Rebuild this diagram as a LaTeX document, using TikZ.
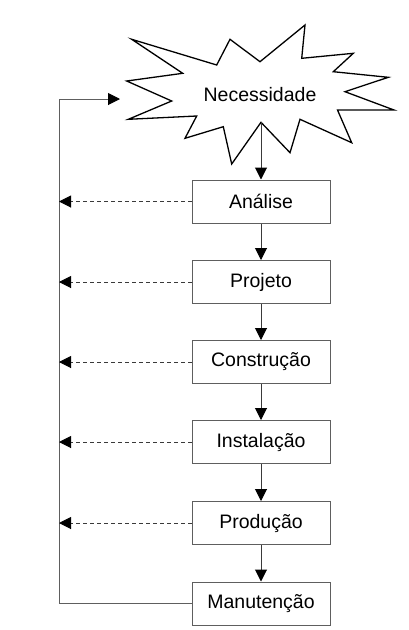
\documentclass[tikz,border=0pt]{standalone}
\usepackage{fontspec}
\setmainfont{Liberation Sans}
\usetikzlibrary{arrows.meta}
\definecolor{boxLine}{HTML}{5E5E5E}
\definecolor{arrowLine}{HTML}{3A3A3A}
\newcommand{\stageNode}[3]{
	\node[stage] (#1) at (261, #3) {#2};
}
\tikzset{
	stage/.style = {draw = boxLine, fill = white, line width = 1pt, minimum width = 138pt, minimum height = 43pt, inner sep = 0pt, font = \fontsize{19.5}{23}\selectfont},
	flow/.style = {draw = arrowLine, line width = 1pt, -{Triangle[length = 12pt, width = 12pt, black]}},
	back/.style = {flow, dash pattern = on 4pt off 3pt},
}
\begin{document}
\begin{tikzpicture}[x = 1pt, y = -1pt]%
		\useasboundingbox (0, 0) rectangle (408, 630);

		% the need
		\draw[line width = 1.3pt, line join = miter] (131.7, 39.3) -- (216.7, 65) -- (230, 39.3) -- (260, 61.7)
			-- (305, 25) -- (301.7, 58.3) -- (353.3, 53.3) -- (333.3, 71.7) -- (388.3, 77.3) -- (345, 91.7)
			-- (394, 110) -- (337.5, 110) -- (351.7, 142.7) -- (300, 119.3) -- (290, 152.7) -- (261, 122.3)
			-- (231.7, 164) -- (223.3, 126.7) -- (185, 138.3) -- (196.7, 116) -- (128.3, 119.3) -- (171.7, 101)
			-- (126.7, 81) -- (182.7, 73.3) -- cycle;
		\node[font = \fontsize{19.5}{23}\selectfont] (necessidade) at (260, 95) {Necessidade};
		\coordinate (starBottom) at (261, 122.3);
		\coordinate (starLeft) at (120, 99);

		% stages
		\stageNode{analise}{Análise}{201.5}
		\stageNode{projeto}{Projeto}{282}
		\stageNode{construcao}{Construção}{362}
		\stageNode{instalacao}{Instalação}{442}
		\stageNode{producao}{Produção}{523}
		\stageNode{manutencao}{Manutenção}{603.5}

		% downward flow
		\draw[flow] (starBottom) -- (analise);
		\draw[flow] (analise) -- (projeto);
		\draw[flow] (projeto) -- (construcao);
		\draw[flow] (construcao) -- (instalacao);
		\draw[flow] (instalacao) -- (producao);
		\draw[flow] (producao) -- (manutencao);

		% loop back
		\coordinate (loopBottom) at (59, 603.5);
		\coordinate (loopTop) at (59, 99);
		\draw[flow, draw = boxLine] (manutencao.west) -- (loopBottom) -- (loopTop) -- (starLeft);

		\draw[back] (analise.west) -- (analise.west -| loopTop);
		\draw[back] (projeto.west) -- (projeto.west -| loopTop);
		\draw[back] (construcao.west) -- (construcao.west -| loopTop);
		\draw[back] (instalacao.west) -- (instalacao.west -| loopTop);
		\draw[back] (producao.west) -- (producao.west -| loopTop);
	\end{tikzpicture}
\end{document}
